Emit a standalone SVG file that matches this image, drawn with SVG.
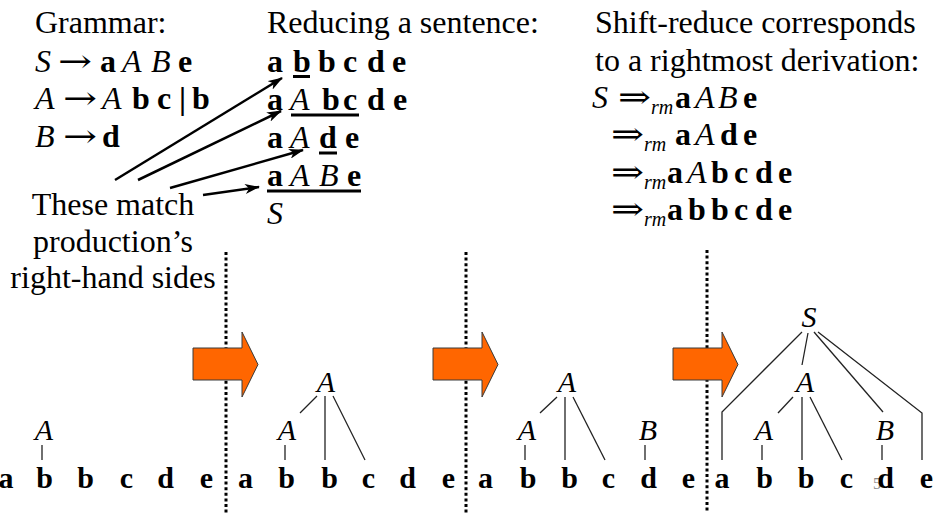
<svg xmlns="http://www.w3.org/2000/svg" width="938" height="513" viewBox="0 0 938 513" font-family="'Liberation Serif', 'Times New Roman', Times, Tinos, 'DejaVu Serif', serif">
<style>
text{font-family:'Liberation Serif','Times New Roman',Times,Tinos,'DejaVu Serif',serif;font-size:32px;fill:#000}
.i{font-style:italic}
.b{font-weight:bold}
.sub{font-style:italic;font-size:20px}
.leaf{font-weight:bold;font-size:30px;text-anchor:middle}
.nt{font-style:italic;font-size:30px;text-anchor:middle}
.sym{font-family:'DejaVu Serif',serif;font-weight:normal}
.ul{stroke:#000;stroke-width:3}
.ptr{stroke:#000;stroke-width:2.5;fill:none;marker-end:url(#ah)}
.tl{stroke:#222;stroke-width:1.3;fill:none}
.dot{stroke:#000;stroke-width:3;stroke-dasharray:3 2.6}
.big{fill:#FF6600;stroke:#3a3a3a;stroke-width:1}
</style>
<defs>
<marker id="ah" markerUnits="userSpaceOnUse" markerWidth="16" markerHeight="10" refX="14" refY="5" orient="auto">
<path d="M0,0 L15,5 L0,10 L4,5 Z" fill="#000"/>
</marker>
</defs>

<g id="grammar">
<text x="35" y="33">Grammar:</text>
<text y="72"><tspan x="35" class="i">S</tspan><tspan x="100" class="b">a</tspan><tspan x="122" class="i">A</tspan><tspan x="151" class="i">B</tspan><tspan x="178" class="b">e</tspan></text>
<text y="72" x="58" class="sym" textLength="34" lengthAdjust="spacingAndGlyphs">→</text>
<text y="109"><tspan x="35" class="i">A</tspan><tspan x="102" class="i">A</tspan><tspan x="132" class="b">b</tspan><tspan x="157" class="b">c</tspan><tspan x="179" class="b">|</tspan><tspan x="192" class="b">b</tspan></text>
<text y="109" x="63" class="sym" textLength="34" lengthAdjust="spacingAndGlyphs">→</text>
<text y="147"><tspan x="35" class="i">B</tspan><tspan x="102" class="b">d</tspan></text>
<text y="147" x="63" class="sym" textLength="34" lengthAdjust="spacingAndGlyphs">→</text>
</g>

<g id="reduction">
<text x="267" y="33">Reducing a sentence:</text>
<text y="72" class="b"><tspan x="267">a</tspan><tspan x="293">b</tspan><tspan x="318">b</tspan><tspan x="343">c</tspan><tspan x="367">d</tspan><tspan x="392">e</tspan></text>
<line class="ul" x1="293" y1="76.5" x2="310" y2="76.5"/>
<text y="110"><tspan x="267" class="b">a</tspan><tspan x="290" class="i">A</tspan><tspan x="322" class="b">b</tspan><tspan x="343" class="b">c</tspan><tspan x="367" class="b">d</tspan><tspan x="393" class="b">e</tspan></text>
<line class="ul" x1="291" y1="115" x2="359" y2="115"/>
<text y="148"><tspan x="267" class="b">a</tspan><tspan x="290" class="i">A</tspan><tspan x="319" class="b">d</tspan><tspan x="345" class="b">e</tspan></text>
<line class="ul" x1="319" y1="153" x2="337" y2="153"/>
<text y="186"><tspan x="267" class="b">a</tspan><tspan x="290" class="i">A</tspan><tspan x="319" class="i">B</tspan><tspan x="347" class="b">e</tspan></text>
<line class="ul" x1="267" y1="191" x2="361" y2="191"/>
<text y="224" x="267" class="i">S</text>
</g>

<g id="derivation">
<text x="595" y="33">Shift-reduce corresponds</text>
<text x="595" y="71">to a rightmost derivation:</text>
<text y="108"><tspan x="592" class="i">S</tspan></text>
<text y="108" x="618" class="sym" textLength="33" lengthAdjust="spacingAndGlyphs">⇒</text>
<text x="651" y="114" class="sub">rm</text>
<text y="108"><tspan x="675" class="b">a</tspan><tspan x="695" class="i">A</tspan><tspan x="718" class="i">B</tspan><tspan x="743" class="b">e</tspan></text>
<text y="145" x="611" class="sym" textLength="33" lengthAdjust="spacingAndGlyphs">⇒</text>
<text x="644" y="151" class="sub">rm</text>
<text y="145"><tspan x="675" class="b">a</tspan><tspan x="695" class="i">A</tspan><tspan x="720" class="b">d</tspan><tspan x="743" class="b">e</tspan></text>
<text y="183" x="611" class="sym" textLength="33" lengthAdjust="spacingAndGlyphs">⇒</text>
<text x="644" y="189" class="sub">rm</text>
<text y="183"><tspan x="667" class="b">a</tspan><tspan x="687" class="i">A</tspan><tspan x="711" class="b">b</tspan><tspan x="734" class="b">c</tspan><tspan x="755" class="b">d</tspan><tspan x="778" class="b">e</tspan></text>
<text y="220" x="611" class="sym" textLength="33" lengthAdjust="spacingAndGlyphs">⇒</text>
<text x="644" y="226" class="sub">rm</text>
<text y="220"><tspan x="667" class="b">a</tspan><tspan x="688" class="b">b</tspan><tspan x="711" class="b">b</tspan><tspan x="734" class="b">c</tspan><tspan x="755" class="b">d</tspan><tspan x="778" class="b">e</tspan></text>
</g>

<g id="note">
<text x="113" y="215" text-anchor="middle">These match</text>
<text x="113" y="252" text-anchor="middle">production’s</text>
<text x="113" y="288" text-anchor="middle">right-hand sides</text>
</g>

<g id="connectors">
<line class="ptr" x1="115" y1="180" x2="282" y2="78"/>
<line class="ptr" x1="138" y1="180" x2="281" y2="111"/>
<line class="ptr" x1="170" y1="188" x2="303" y2="150"/>
<line class="ptr" x1="203" y1="195" x2="259" y2="187"/>
</g>

<g id="separators">
<line class="dot" x1="226" y1="252" x2="226" y2="513"/>
<line class="dot" x1="466" y1="252" x2="466" y2="513"/>
<line class="dot" x1="707" y1="250" x2="707" y2="513"/>
</g>

<g id="step-arrows">
<path class="big" d="M193,348 H242 V332 L258,364.5 L242,397 V380 H193 Z"/>
<path class="big" d="M433,348 H482 V332 L498,364.5 L482,397 V380 H433 Z"/>
<path class="big" d="M673,348 H722 V332 L738,364.5 L722,397 V380 H673 Z"/>
</g>

<g id="tree1">
<text class="nt" x="44" y="440">A</text>
<line class="tl" x1="42" y1="445" x2="42" y2="460"/>
<text class="leaf" x="6" y="488">a</text><text class="leaf" x="44.5" y="488">b</text><text class="leaf" x="85.5" y="488">b</text><text class="leaf" x="126.5" y="488">c</text><text class="leaf" x="165.5" y="488">d</text><text class="leaf" x="206.5" y="488">e</text>
</g>

<g id="tree2">
<text class="nt" x="326" y="392">A</text>
<text class="nt" x="287" y="440">A</text>
<line class="tl" x1="317" y1="396" x2="300" y2="413"/>
<line class="tl" x1="325" y1="396" x2="325" y2="460"/>
<line class="tl" x1="333" y1="396" x2="365" y2="460"/>
<line class="tl" x1="285" y1="445" x2="285" y2="460"/>
<text class="leaf" x="245.5" y="488">a</text><text class="leaf" x="286.5" y="488">b</text><text class="leaf" x="329.5" y="488">b</text><text class="leaf" x="368.5" y="488">c</text><text class="leaf" x="407.5" y="488">d</text><text class="leaf" x="448.5" y="488">e</text>
</g>

<g id="tree3">
<text class="nt" x="567" y="392">A</text>
<text class="nt" x="527" y="440">A</text>
<text class="nt" x="648" y="440">B</text>
<line class="tl" x1="557" y1="397" x2="540" y2="413"/>
<line class="tl" x1="565" y1="397" x2="565" y2="460"/>
<line class="tl" x1="573" y1="397" x2="605" y2="460"/>
<line class="tl" x1="525" y1="445" x2="525" y2="460"/>
<line class="tl" x1="645" y1="445" x2="645" y2="460"/>
<text class="leaf" x="485.5" y="488">a</text><text class="leaf" x="528" y="488">b</text><text class="leaf" x="569.5" y="488">b</text><text class="leaf" x="608.5" y="488">c</text><text class="leaf" x="648.5" y="488">d</text><text class="leaf" x="688.5" y="488">e</text>
</g>

<g id="tree4">
<text class="nt" x="809" y="327">S</text>
<text class="nt" x="805" y="392">A</text>
<text class="nt" x="764" y="440">A</text>
<text class="nt" x="885" y="440">B</text>
<polyline class="tl" points="802,332 722,412 722,460"/>
<line class="tl" x1="808" y1="333" x2="802" y2="365"/>
<line class="tl" x1="814" y1="332" x2="883" y2="412"/>
<polyline class="tl" points="818,332 922,413 922,460"/>
<line class="tl" x1="793" y1="397" x2="778" y2="413"/>
<line class="tl" x1="802" y1="397" x2="802" y2="460"/>
<line class="tl" x1="810" y1="397" x2="842" y2="460"/>
<line class="tl" x1="762" y1="445" x2="762" y2="460"/>
<line class="tl" x1="882" y1="445" x2="882" y2="460"/>
<text class="leaf" x="722" y="488">a</text><text class="leaf" x="764.5" y="488">b</text><text class="leaf" x="806" y="488">b</text><text class="leaf" x="846.5" y="488">c</text><text x="873" y="489" style="font-size:16px;fill:#8a8a8a">5</text><text class="leaf" x="885.5" y="488">d</text><text class="leaf" x="926.5" y="488">e</text>
</g>
</svg>
